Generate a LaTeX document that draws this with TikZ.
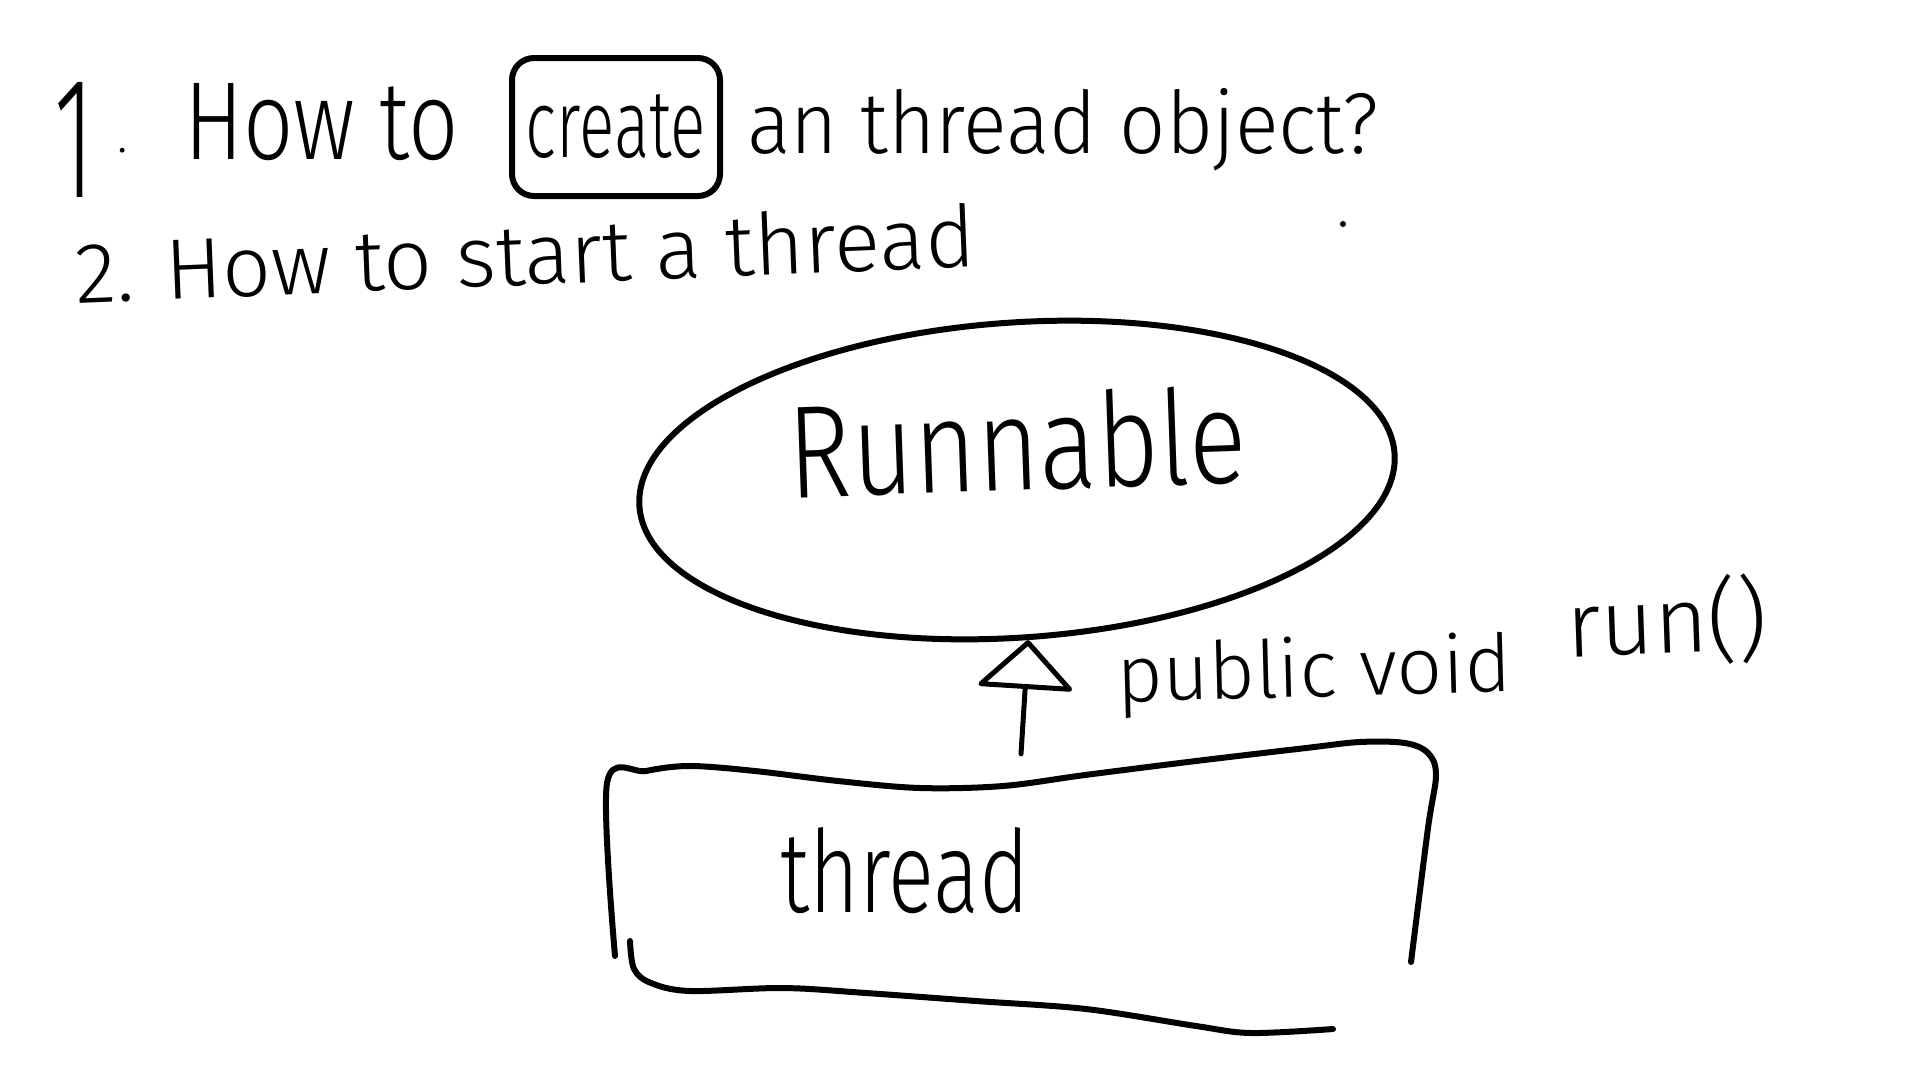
\documentclass[tikz,border=0pt]{standalone}
\usepackage{graphicx}
\usepackage{fontspec}
\setmainfont{Fira Sans Light}
\usetikzlibrary{arrows.meta,shapes.geometric}
\newcommand{\hwtext}[3]{\resizebox{#1}{#2}{#3}}
\newlength{\hwlen}
\newcommand{\hwfit}[2]{\settowidth{\hwlen}{\fontsize{10pt}{12pt}\selectfont #2}%
  \pgfmathsetmacro{\hwsize}{10*#1/\hwlen}%
  \fontsize{\hwsize pt}{\hwsize pt}\selectfont #2}
\begin{document}
\begin{tikzpicture}[x=1pt,y=-1pt,line join=round,line cap=round,
  ink/.style={draw=black,line width=6pt},
  pen/.style={draw=black,line width=6pt,line cap=round,line join=round},
  txt/.style={inner sep=0pt,outer sep=0pt,text=black}]
\useasboundingbox (0,0) rectangle (1920,1080);
\fill[white] (0,0) rectangle (1920,1080);
% question 1
\node[txt,anchor=base west] (one) at (54,197) {\hwtext{40pt}{115pt}{1}};
\node[txt,anchor=base west] (onedot) at (117,152) {\fontsize{50}{50}\selectfont .};
\node[txt,anchor=base west] (howto) at (184,159) {\hwtext{275pt}{76pt}{How to}};
\node[ink,rounded corners=22pt,minimum width=208pt,minimum height=138pt,inner sep=0pt] (create) at (616,127) {\hwtext{180pt}{63pt}{create}};
\node[txt,anchor=base west] (rest) at (747,153) {\hwtext{631pt}{65pt}{an thread object?}};
\fill (1343,224) circle (3pt);
% question 2
\node[txt,anchor=base west,rotate=2.3] (second) at (76,303) {\hwfit{901}{2. How to start a thread}};
% Runnable
\node[ink,ellipse,minimum width=757pt,minimum height=315pt,inner sep=0pt,rotate=4] (runnable) at (1017,480) {};
\node[txt,anchor=base,rotate=2] (runlbl) at (1019,490) {\hwtext{459pt}{98pt}{Runnable}};
% thread box (hand-drawn outline)
\node[inner sep=0pt,minimum width=824pt,minimum height=250pt] (threadbox) at (1020,895) {};
\draw[pen] plot[smooth,tension=0.55] coordinates {(615,956) (607,783) (646,771) (690,766) (755,771) (838,781) (920,788) (1003,786) (1085,775) (1196,761) (1306,748) (1360,742) (1405,743) (1428,753) (1436,775) (1428,828) (1411,962)};
\draw[pen] plot[smooth,tension=0.55] coordinates {(630,941) (634,969) (651,983) (690,991) (783,988) (866,993) (976,1001) (1086,1009) (1196,1026) (1251,1033) (1333,1029)};
\node[txt,anchor=base] (threadlbl) at (905,912) {\hwtext{249pt}{85pt}{thread}};
% arrow
\draw[draw=black,line width=5pt,-{Triangle[open,round,length=50pt,width=100pt,line width=5pt]},shorten <=16pt] (threadbox.north) -- (runnable.south);
% method label
\node[txt,anchor=base west,rotate=1.5] (method) at (1117,702) {\hwfit{395}{public void}};
\node[txt,anchor=base west,rotate=2] (methodrun) at (1567,657) {\hwfit{202}{run()}};
\end{tikzpicture}
\end{document}
